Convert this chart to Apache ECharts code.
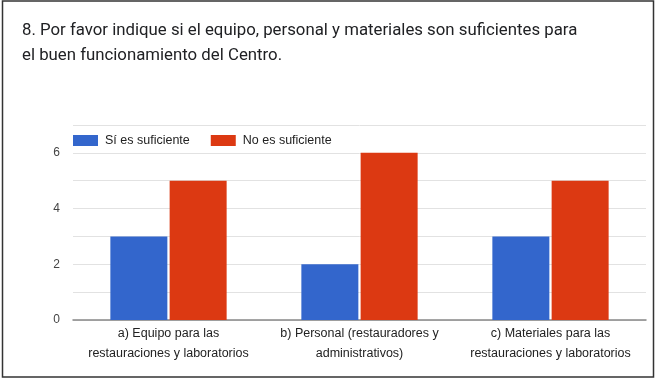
<!DOCTYPE html>
<html><head><meta charset="utf-8">
<style>html,body{margin:0;padding:0;background:#fff;}#c{width:656px;height:380px;}</style>
<script src="https://cdn.jsdelivr.net/npm/echarts@6/dist/echarts.min.js"></script>
</head><body><div id="c"></div>
<script>
const titleText = "8. Por favor indique si el equipo, personal y materiales son suficientes para\nel buen funcionamiento del Centro.";
const categories = ["a) Equipo para las\nrestauraciones y laboratorios", "b) Personal (restauradores y\nadministrativos)", "c) Materiales para las\nrestauraciones y laboratorios"];
const seriesNames = ["Sí es suficiente", "No es suficiente"];
const siValues = [3, 2, 3];
const noValues = [5, 6, 5];
const yTickLabels = [0, 2, 4, 6];

const chart = echarts.init(document.getElementById('c'), null, {renderer: 'canvas'});
chart.setOption({
  animation: false,
  title: {
    text: titleText, left: 17, top: 13,
    textStyle: {fontFamily: 'Roboto', fontSize: 16.8, fontWeight: 'normal', color: '#202124', lineHeight: 25}
  },
  legend: {
    left: 68, top: 129, itemWidth: 25, itemHeight: 11, itemGap: 21,
    textStyle: {fontFamily: 'Liberation Sans', fontSize: 12.5, color: '#222', padding: [0, 0, 0, 2]},
    icon: 'rect',
    data: seriesNames
  },
  grid: {left: 73, right: 10, top: 125, bottom: 60},
  xAxis: {
    type: 'category', data: categories,
    axisLine: {lineStyle: {color: '#888', width: 1.5}},
    axisTick: {show: false},
    axisLabel: {interval: 0, fontFamily: 'Liberation Sans', fontSize: 12.5, color: '#222', lineHeight: 20, margin: 4}
  },
  yAxis: {
    type: 'value', min: 0, max: 7, interval: 1,
    axisLine: {show: false}, axisTick: {show: false},
    axisLabel: {
      fontFamily: 'Liberation Sans', fontSize: 12, color: '#444', margin: 13,
      formatter: v => yTickLabels.includes(v) ? String(v) : ''
    },
    splitLine: {lineStyle: {color: '#e2e2e2'}}
  },
  series: [
    {name: seriesNames[0], type: 'bar', data: siValues, itemStyle: {color: '#3366cc'}, barWidth: 57, barGap: '4%'},
    {name: seriesNames[1], type: 'bar', data: noValues, itemStyle: {color: '#dc3912'}, barWidth: 57}
  ],
  graphic: [{
    type: 'rect', shape: {x: 2.5, y: 1, width: 651, height: 376},
    style: {fill: 'none', stroke: '#333', lineWidth: 1.5}, silent: true, z: 100
  }]
});
</script></body></html>
